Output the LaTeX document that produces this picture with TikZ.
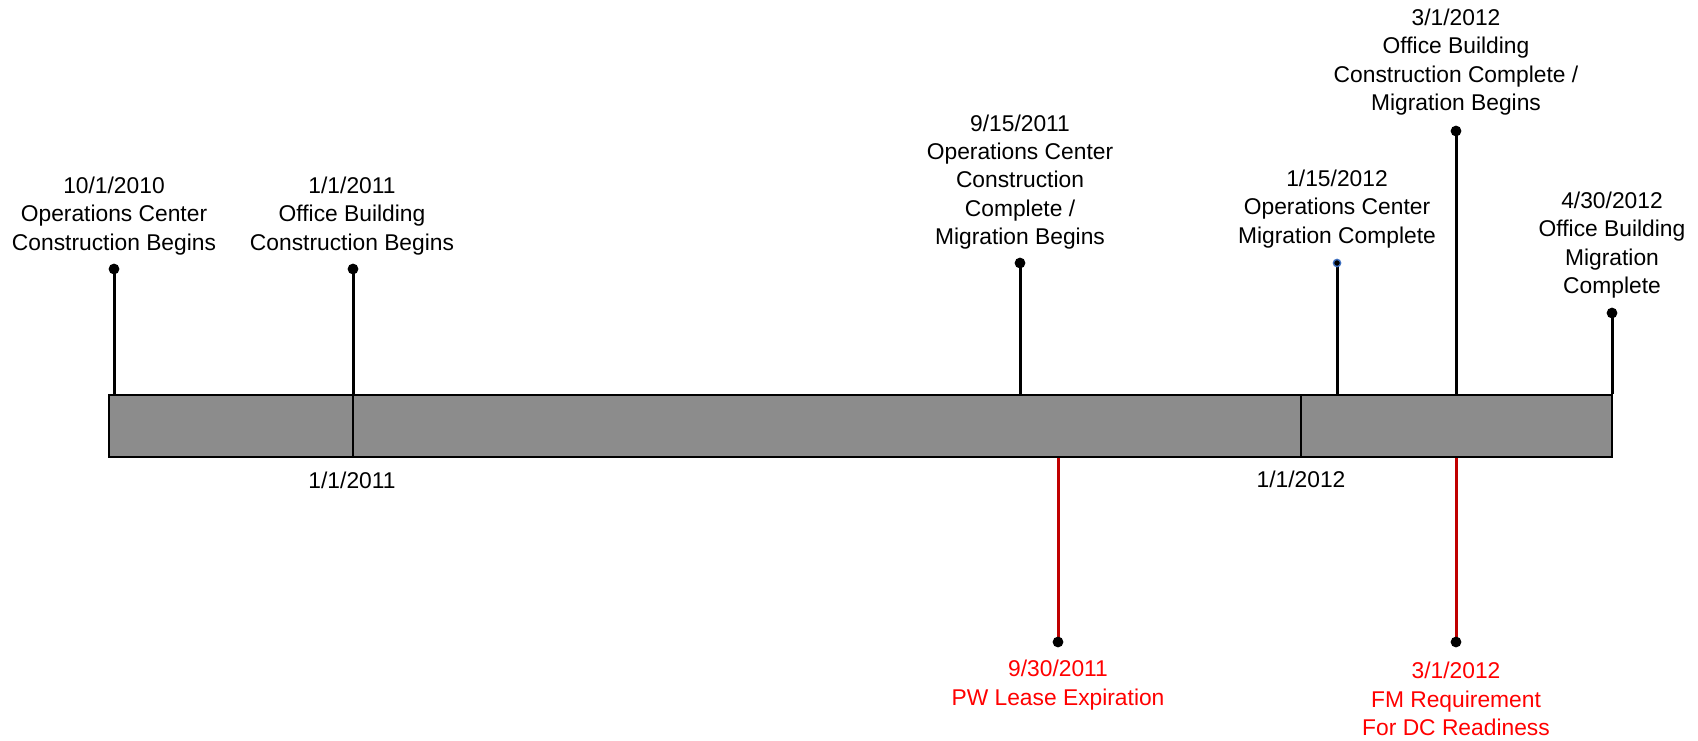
\documentclass[tikz,border=0pt]{standalone}
\usepackage{fontspec}
\setmainfont{Liberation Sans}
\definecolor{bargray}{RGB}{140,140,140}
\definecolor{stemred}{RGB}{192,0,0}
\definecolor{txtred}{RGB}{255,0,0}
\definecolor{ringblue}{RGB}{60,110,190}
\begin{document}
\begin{tikzpicture}[x=0.5pt,y=-0.5pt,
  lbl/.style={align=center,inner sep=0pt,font=\fontsize{11.4}{14.15}\selectfont},
  redlbl/.style={lbl,text=txtred},
  dot/.style={circle,fill=black,inner sep=0pt,minimum size=5.4pt},
  smalldot/.style={circle,fill=black,draw=ringblue,line width=0.7pt,inner sep=0pt,minimum size=3.6pt},
  stem/.style={line width=1.5pt,black},
  redstem/.style={line width=1.5pt,stemred},
  tick/.style={line width=0.9pt,black}]
\useasboundingbox (0,0) rectangle (1698,740);
% bar
\node[draw=black,line width=1pt,fill=bargray,inner sep=0pt,minimum width=751.5pt,minimum height=31pt] (bar) at (860.5,426) {};
\coordinate (t11) at (353,426);
\coordinate (t12) at (1301,426);
\draw[tick] (t11 |- bar.north) -- (t11 |- bar.south);
\draw[tick] (t12 |- bar.north) -- (t12 |- bar.south);
\node[lbl] (l11) at (352,480) {1/1/2011};
\node[lbl] (l12) at (1301,479) {1/1/2012};
% top events
\coordinate (pA) at (114,269);
\coordinate (pB) at (353,269);
\coordinate (pC) at (1020,263);
\coordinate (pD) at (1337,263);
\coordinate (pE) at (1456,131);
\coordinate (pF) at (1612,313);
\foreach \p in {pA,pB,pC,pD,pE,pF}{
  \draw[stem] (\p) -- (\p |- bar.north);
}
\node[dot] (dA) at (pA) {};
\node[dot] (dB) at (pB) {};
\node[dot] (dC) at (pC) {};
\node[smalldot] (dD) at (pD) {};
\node[dot] (dE) at (pE) {};
\node[dot] (dF) at (pF) {};
\node[lbl] (tA) at (114,216) {10/1/2010\\Operations Center\\Construction Begins};
\node[lbl] (tB) at (352,216) {1/1/2011\\Office Building\\Construction Begins};
\node[lbl] (tC) at (1020,182) {9/15/2011\\Operations Center\\Construction\\Complete /\\Migration Begins};
\node[lbl] (tD) at (1337,209) {1/15/2012\\Operations Center\\Migration Complete};
\node[lbl] (tE) at (1456,62) {3/1/2012\\Office Building\\Construction Complete /\\Migration Begins};
\node[lbl] (tF) at (1612,245) {4/30/2012\\Office Building\\Migration\\Complete};
% bottom events
\coordinate (pG) at (1058,642);
\coordinate (pH) at (1456,642);
\draw[redstem] (pG |- bar.south) -- (pG);
\draw[redstem] (pH |- bar.south) -- (pH);
\node[dot] (dG) at (pG) {};
\node[dot] (dH) at (pH) {};
\node[redlbl] (tG) at (1058,685) {9/30/2011\\PW Lease Expiration};
\node[redlbl] (tH) at (1456,699) {3/1/2012\\FM Requirement\\For DC Readiness};
\end{tikzpicture}
\end{document}
